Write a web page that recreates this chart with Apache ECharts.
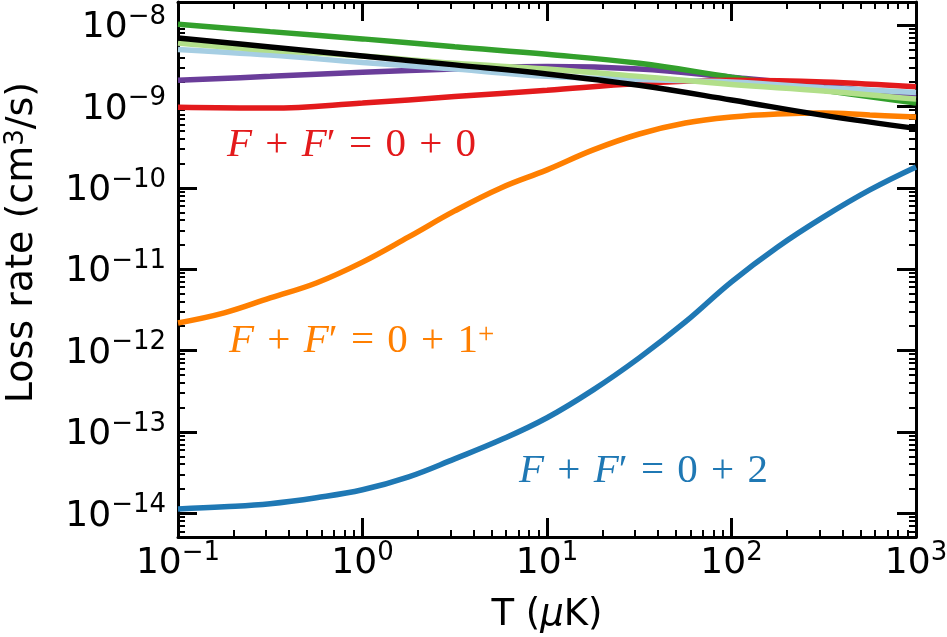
<!DOCTYPE html>
<html>
<head>
<meta charset="utf-8">
<script src="https://cdn.jsdelivr.net/npm/echarts@6/dist/echarts.min.js"></script>
<style>
  html, body { margin: 0; padding: 0; background: #fff; }
  #chart { width: 947px; height: 637px; }
</style>
</head>
<body>
<div id="chart"></div>
<script>
// temperature (uK): half-decade steps, and quarter-decade steps for the steep curves
var T = [0.1, 0.316, 1, 3.16, 10, 31.6, 100, 316, 1000];
var Tfine = [0.1, 0.178, 0.316, 0.562, 1, 1.78, 3.16, 5.62, 10,
             17.8, 31.6, 56.2, 100, 178, 316, 562, 1000];

// loss rates (cm^3/s)
var rateRed        = [9.77e-10, 9.55e-10, 1.10e-9, 1.32e-9, 1.58e-9, 1.91e-9, 2.09e-9, 2.00e-9, 1.74e-9];
var ratePurple     = [2.09e-9, 2.34e-9, 2.63e-9, 2.88e-9, 3.09e-9, 2.88e-9, 2.29e-9, 1.78e-9, 1.32e-9];
var rateGreen      = [1.02e-8, 8.3e-9, 6.76e-9, 5.4e-9, 4.37e-9, 3.39e-9, 2.29e-9, 1.58e-9, 1.10e-9];
var rateLightBlue  = [5.01e-9, 4.27e-9, 3.47e-9, 2.88e-9, 2.34e-9, 2.14e-9, 2.00e-9, 1.70e-9, 1.48e-9];
var rateLightGreen = [6.03e-9, 4.90e-9, 4.17e-9, 3.39e-9, 2.88e-9, 2.34e-9, 1.86e-9, 1.55e-9, 1.23e-9];
var rateBlack      = [6.92e-9, 5.37e-9, 4.17e-9, 3.24e-9, 2.51e-9, 1.82e-9, 1.20e-9, 7.76e-10, 5.37e-10];
// on Tfine
var rateOrange = [2.18e-12, 2.90e-12, 4.43e-12, 6.76e-12, 1.22e-11, 2.49e-11, 5.19e-11, 9.95e-11, 1.66e-10,
                  2.92e-10, 4.58e-10, 6.25e-10, 7.41e-10, 8.07e-10, 8.30e-10, 7.83e-10, 7.41e-10];
var rateBlue   = [1.13e-14, 1.20e-14, 1.31e-14, 1.55e-14, 1.94e-14, 2.80e-14, 4.66e-14, 7.98e-14, 1.49e-13,
                  3.28e-13, 8.11e-13, 2.24e-12, 6.97e-12, 1.87e-11, 4.38e-11, 9.40e-11, 1.80e-10];

// where the curve labels sit [T, rate]
var labelRed    = [0.1845, 3.36e-10];
var labelOrange = [0.189, 1.31e-12];
var labelBlue   = [7.05, 3.24e-14];

// tick positions
var xMajor = [0.1, 1, 10, 100, 1000];
var yMajor = [1e-14, 1e-13, 1e-12, 1e-11, 1e-10, 1e-9, 1e-8];
var xMin = 0.1, xMax = 1000;
var yMin = 5.1e-15, yMax = 1.92e-8;

function minorTicks(lo, hi, min, max) {
  var out = [];
  for (var d = lo; d <= hi; d++) {
    for (var m = 2; m <= 9; m++) {
      var v = m * Math.pow(10, d);
      if (v > min && v < max) out.push(v);
    }
  }
  return out;
}
var xMinor = minorTicks(-1, 2, xMin, xMax);
var yMinor = minorTicks(-15, -9, yMin, yMax);

var tickRich = {
  b: { fontFamily: 'DejaVu Sans', fontSize: 36, color: '#000', lineHeight: 42, verticalAlign: 'bottom' },
  s: { fontFamily: 'DejaVu Sans', fontSize: 26, color: '#000', verticalAlign: 'top' }
};
function powLabel(v) {
  var e = Math.round(Math.log10(v));
  return '{b|10}{s|' + (e < 0 ? '\u2212' + (-e) : e) + '}';
}

function axis(pos, gridIndex, min, max, ticks, len, w, withLine, label) {
  return {
    type: 'log', logBase: 10, gridIndex: gridIndex, position: pos,
    min: min, max: max,
    axisLine: { show: withLine, onZero: false, lineStyle: { color: '#000', width: 3 } },
    axisTick: { show: true, inside: true, length: len, customValues: ticks,
                lineStyle: { color: '#000', width: w } },
    axisLabel: label || { show: false },
    splitLine: { show: false },
    minorTick: { show: false },
    minorSplitLine: { show: false }
  };
}

var xBottom = axis('bottom', 0, xMin, xMax, xMajor, 19, 3, true,
  { show: true, customValues: xMajor, margin: 3, formatter: powLabel, rich: tickRich });
xBottom.name = 'T ({m|\u03bc}K)';
xBottom.nameLocation = 'middle';
xBottom.nameGap = 60;
xBottom.nameTextStyle = {
  fontFamily: 'DejaVu Sans', fontSize: 37, color: '#000',
  rich: { m: { fontFamily: 'DejaVu Sans', fontStyle: 'italic', fontSize: 37, color: '#000' } }
};

var yLeft = axis('left', 0, yMin, yMax, yMajor, 19, 3, true,
  { show: true, customValues: yMajor, margin: 12, formatter: powLabel, rich: tickRich });
yLeft.name = 'Loss rate (cm{s|3}/s)';
yLeft.nameLocation = 'middle';
yLeft.nameGap = 137;
yLeft.nameTextStyle = {
  fontFamily: 'DejaVu Sans', fontSize: 38, color: '#000',
  padding: [0, 0, 0, 54],
  rich: {
    s: { fontFamily: 'DejaVu Sans', fontSize: 26, color: '#000', verticalAlign: 'top' }
  }
};

function mathRich(color) {
  return {
    i: { fontFamily: 'Liberation Serif', fontStyle: 'italic', fontSize: 41, color: color },
    n: { fontFamily: 'Liberation Serif', fontSize: 41, color: color },
    o: { fontFamily: 'Liberation Serif', fontSize: 41, color: color, padding: [0, 3] },
    s: { fontFamily: 'Liberation Serif', fontSize: 29, color: color, verticalAlign: 'top' }
  };
}
function note(pos, text, color) {
  return {
    symbol: 'circle', symbolSize: 0, silent: true, animation: false,
    label: { show: true, position: 'right', distance: 0, formatter: text, rich: mathRich(color) },
    data: [{ coord: pos }]
  };
}

function curve(name, xs, rates, color, mark) {
  var s = {
    type: 'line', name: name, xAxisIndex: 0, yAxisIndex: 0,
    data: xs.map(function (t, i) { return [t, rates[i]]; }),
    smooth: 0.4, showSymbol: false, symbol: 'none',
    lineStyle: { color: color, width: 5.5 },
    itemStyle: { color: color },
    animation: false
  };
  if (mark) s.markPoint = mark;
  return s;
}

var chart = echarts.init(document.getElementById('chart'), null, { renderer: 'canvas' });
chart.setOption({
  animation: false,
  backgroundColor: '#fff',
  grid: [
    { left: 178, top: 2, width: 738, height: 535, outerBoundsMode: 'none', containLabel: false },
    { left: 178, top: 2, width: 738, height: 535, outerBoundsMode: 'none', containLabel: false }
  ],
  xAxis: [
    xBottom,
    axis('top', 0, xMin, xMax, xMajor, 19, 3, true),
    axis('bottom', 1, xMin, xMax, xMinor, 7, 2, false),
    axis('top', 1, xMin, xMax, xMinor, 7, 2, false)
  ],
  yAxis: [
    yLeft,
    axis('right', 0, yMin, yMax, yMajor, 19, 3, true),
    axis('left', 1, yMin, yMax, yMinor, 7, 2, false),
    axis('right', 1, yMin, yMax, yMinor, 7, 2, false)
  ],
  series: [
    curve('purple', T, ratePurple, '#6a3d9a'),
    curve('green', T, rateGreen, '#33a02c'),
    curve('0+0', T, rateRed, '#e31a1c',
      note(labelRed, '{i|F}{o| + }{i|F}{n|\u2032}{o| = }{n|0}{o| + }{n|0}', '#e31a1c')),
    curve('lightblue', T, rateLightBlue, '#a6cee3'),
    curve('lightgreen', T, rateLightGreen, '#b2df8a'),
    curve('0+1+', Tfine, rateOrange, '#ff7f00',
      note(labelOrange, '{i|F}{o| + }{i|F}{n|\u2032}{o| = }{n|0}{o| + }{n|1}{s|+}', '#ff7f00')),
    curve('0+2', Tfine, rateBlue, '#1f78b4',
      note(labelBlue, '{i|F}{o| + }{i|F}{n|\u2032}{o| = }{n|0}{o| + }{n|2}', '#1f78b4')),
    curve('total', T, rateBlack, '#000000')
  ]
});
</script>
</body>
</html>
